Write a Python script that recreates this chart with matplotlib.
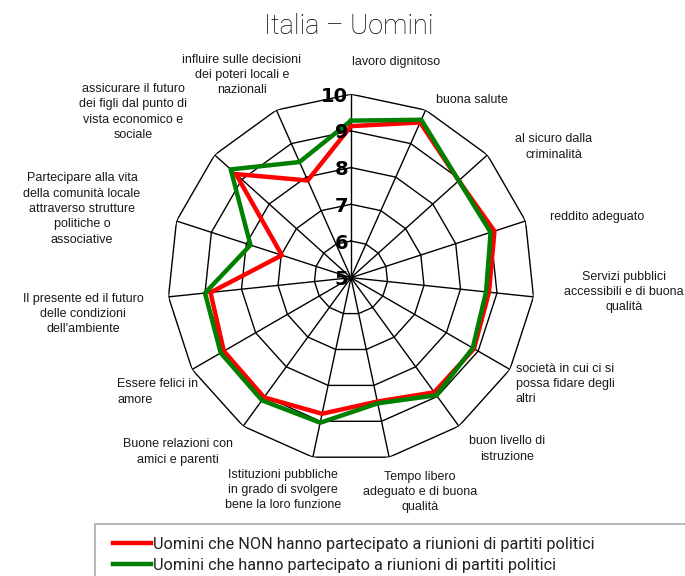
import numpy as np
import matplotlib
matplotlib.use("Agg")
import matplotlib.pyplot as plt
from matplotlib.lines import Line2D
from matplotlib.patches import Rectangle

# categories, clockwise from the top
categories = [
    "lavoro dignitoso",
    "buona salute",
    "al sicuro dalla\ncriminalità",
    "reddito adeguato",
    "Servizi pubblici\naccessibili e di buona\nqualità",
    "società in cui ci si\npossa fidare degli\naltri",
    "buon livello di\nistruzione",
    "Tempo libero\nadeguato e di buona\nqualità",
    "Istituzioni pubbliche\nin grado di svolgere\nbene la loro funzione",
    "Buone relazioni con\namici e parenti",
    "Essere felici in\namore",
    "Il presente ed il futuro\ndelle condizioni\ndell'ambiente",
    "Partecipare alla vita\ndella comunità locale\nattraverso strutture\npolitiche o\nassociative",
    "assicurare il futuro\ndei figli dal punto di\nvista economico e\nsociale",
    "influire sulle decisioni\ndei poteri locali e\nnazionali",
]
non_partecipato = [9.13, 9.63, 8.95, 9.11, 8.78, 8.87, 8.86, 8.45, 8.79, 9.03, 9.00, 8.85, 6.98, 9.22, 7.90]
partecipato     = [9.28, 9.71, 8.95, 9.00, 8.70, 8.83, 8.96, 8.50, 9.04, 9.13, 9.10, 9.00, 7.88, 9.41, 8.45]
ring_values = [5, 6, 7, 8, 9, 10]
series_labels = [
    "Uomini che NON hanno partecipato a riunioni di partiti politici",
    "Uomini che hanno partecipato a riunioni di partiti politici",
]

# label placement (pixel centre, alignment) -- layout only
label_pos = [
    (396, 62, "center"), (472, 100, "center"), (554, 147, "center"),
    (597, 217, "center"), (624, 292, "center"), (516, 384, "left"),
    (507, 449, "center"), (420, 492, "center"), (283, 490, "center"),
    (178, 452, "center"), (117, 392, "left"), (83, 314, "center"),
    (82, 209, "center"), (133, 112, "center"), (242, 75, "center"),
]

W, H = 685, 576
fig = plt.figure(figsize=(W / 100, H / 100), dpi=100)
cx, cy, R = 351, 277.7, 183.5
ax = fig.add_axes([(cx - R) / W, (H - cy - R) / H, 2 * R / W, 2 * R / H],
                  projection="polar")
ax.set_theta_zero_location("N")
ax.set_theta_direction(-1)
ax.set_ylim(5, 10)
ax.grid(False)
ax.spines["polar"].set_visible(False)
ax.set_xticks([]); ax.set_yticks([])

n = len(categories)
theta = np.arange(n) * 2 * np.pi / n
closed = np.append(theta, theta[0])

# polygon grid + spokes
for v in ring_values[1:]:
    ax.plot(closed, [v] * (n + 1), color="black", lw=1.0, zorder=1)
for t in theta:
    ax.plot([t, t], [5, 10], color="black", lw=1.0, zorder=1)

ax.plot(closed, non_partecipato + non_partecipato[:1], color="#FF0000", lw=3.2, zorder=3)
ax.plot(closed, partecipato + partecipato[:1], color="#008000", lw=3.2, zorder=4)

for v in ring_values:
    ax.annotate(str(v), xy=(0, v), xytext=(-2, -1.5), textcoords="offset points",
                ha="right", va="center", fontsize=14, fontweight="bold",
                family="DejaVu Sans", zorder=5)

for lab, (x, y, ha) in zip(categories, label_pos):
    fig.text(x / W, 1 - y / H, lab, ha=ha, va="center", multialignment=ha,
             fontsize=9.0, family="Liberation Sans", color="#1a1a1a", linespacing=1.38)

fig.text(349 / W, 1 - 26 / H, "Italia – Uomini", ha="center", va="center",
         fontsize=19.5, family="Roboto", weight="light", color="black")

# legend box
fig.add_artist(Rectangle((95 / W, -0.05), 1.0, (H - 524) / H + 0.05,
                         transform=fig.transFigure, fill=False,
                         edgecolor="#aaaaaa", lw=1.2))
handles = [Line2D([], [], color="#FF0000", lw=3.2),
           Line2D([], [], color="#008000", lw=3.2)]
fig.legend(handles, series_labels, loc="upper left",
           bbox_to_anchor=(105 / W, 1 - 529 / H), frameon=False,
           handlelength=2.3, handletextpad=0.15, labelspacing=0.35,
           borderpad=0, prop={"family": "Roboto", "size": 11.7})
for t in fig.legends[0].get_texts():
    t.set_color("#222222")

fig.savefig("out.png", dpi=100)
